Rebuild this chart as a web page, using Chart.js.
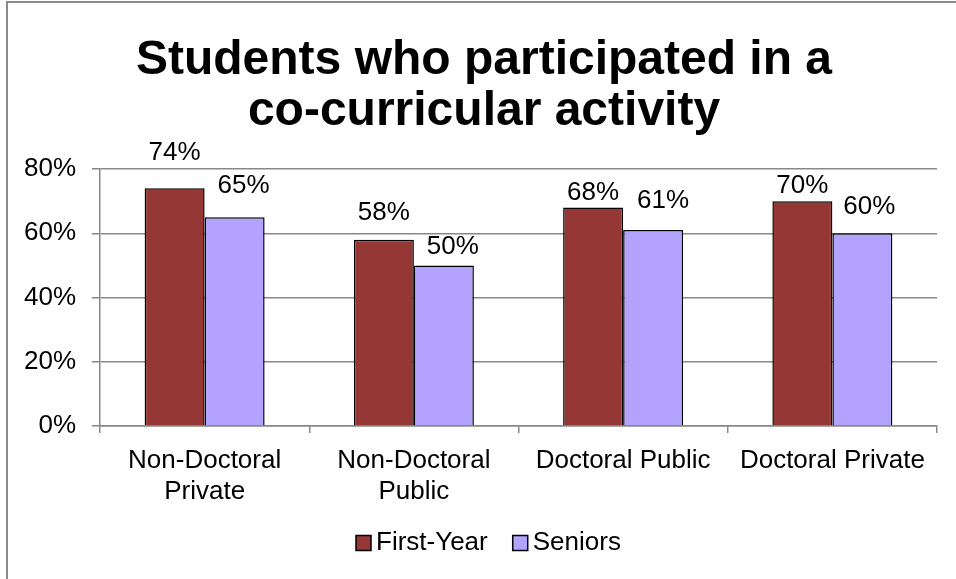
<!DOCTYPE html>
<html>
<head>
<meta charset="utf-8">
<script src="https://cdn.jsdelivr.net/npm/chart.js@4/dist/chart.umd.min.js"></script>
<style>
  html, body { margin: 0; padding: 0; background: #fff; }
  #wrap { width: 956px; height: 579px; position: relative; }
</style>
</head>
<body>
<div id="wrap"><canvas id="c" width="956" height="579"></canvas></div>
<script>
// ---- data ----
const titleLines = ["Students who participated in a", "co-curricular activity"];
const categories = [["Non-Doctoral", "Private"], ["Non-Doctoral", "Public"], "Doctoral Public", "Doctoral Private"];
const seriesNames = ["First-Year", "Seniors"];
const firstYear = [74, 58, 68, 70];
const seniors = [65, 50, 61, 60];
const yTickLabels = ["0%", "20%", "40%", "60%", "80%"];

// ---- style ----
const FONT = "'Liberation Sans', Arial, sans-serif";
const colors = ["#953735", "#B3A3FF"];
const gridColor = "#888888";
// manual label nudges (px, relative to bar top centre), as placed in the original
const labelDx = [[0, 0, 0, 0], [9, 9, 10, 7]];
const labelDy = [[-35, -27, -15, -15], [-31, -19, -29, -26]];

const dataLabels = {
  id: "dataLabels",
  afterDatasetsDraw(chart) {
    const ctx = chart.ctx;
    ctx.save();
    ctx.font = "26px " + FONT;
    ctx.fillStyle = "#000";
    ctx.textAlign = "center";
    ctx.textBaseline = "middle";
    chart.data.datasets.forEach((ds, di) => {
      chart.getDatasetMeta(di).data.forEach((el, i) => {
        ctx.fillText(ds.data[i] + "%", el.x + labelDx[di][i], el.y + labelDy[di][i]);
      });
    });
    ctx.restore();
  }
};

const decor = {
  id: "decor",
  afterDraw(chart) {
    const ctx = chart.ctx;
    ctx.save();
    // frame (left and top edges)
    ctx.strokeStyle = "#8a8a8a";
    ctx.lineWidth = 2;
    ctx.beginPath();
    ctx.moveTo(7, 579); ctx.lineTo(7, 2); ctx.lineTo(956, 2);
    ctx.stroke();
    // title
    ctx.fillStyle = "#000";
    ctx.font = "bold 48px " + FONT;
    ctx.textAlign = "center";
    ctx.textBaseline = "middle";
    titleLines.forEach((t, i) => ctx.fillText(t, 484, 60.5 + i * 51));
    // legend
    ctx.font = "26px " + FONT;
    ctx.textBaseline = "middle";
    ctx.textAlign = "left";
    const cy = 543;
    let x = 356;
    chart.data.datasets.forEach((ds) => {
      ctx.fillStyle = ds.backgroundColor;
      ctx.fillRect(x, cy - 7.5, 15, 15);
      ctx.strokeStyle = "#000";
      ctx.lineWidth = 1.5;
      ctx.strokeRect(x, cy - 7.5, 15, 15);
      ctx.fillStyle = "#000";
      ctx.fillText(ds.label, x + 20, cy);
      x += 20 + ctx.measureText(ds.label).width + 25;
    });
    ctx.restore();
  }
};

new Chart(document.getElementById("c"), {
  type: "bar",
  data: {
    labels: categories,
    datasets: [
      { label: seriesNames[0], data: firstYear, backgroundColor: colors[0], borderColor: "#000", borderWidth: 1.5 },
      { label: seriesNames[1], data: seniors, backgroundColor: colors[1], borderColor: "#000", borderWidth: 1.5 }
    ]
  },
  options: {
    responsive: false,
    animation: false,
    layout: { padding: { left: 0, right: 19, top: 169, bottom: 0 } },
    datasets: { bar: { categoryPercentage: 0.5735, barPercentage: 1 } },
    plugins: {
      legend: { display: false },
      tooltip: { enabled: false },
      title: { display: false }
    },
    scales: {
      x: {
        afterFit(s) { s.height = 153; },
        grid: { display: true, drawOnChartArea: false, drawTicks: true, tickLength: 7, color: gridColor, lineWidth: 1.5, offset: true },
        border: { display: true, color: gridColor, width: 1.5 },
        ticks: { color: "#000", font: { family: FONT, size: 26, lineHeight: 1.19 }, padding: 12, maxRotation: 0, autoSkip: false }
      },
      y: {
        min: 0, max: 80,
        afterFit(s) { s.width = 100; },
        grid: { color: gridColor, lineWidth: 1.5, tickLength: 8 },
        border: { display: true, color: gridColor, width: 1.5 },
        ticks: {
          stepSize: 20,
          color: "#000",
          padding: 16,
          font: { family: FONT, size: 26 },
          callback: (v) => yTickLabels[Math.round(v / 20)]
        }
      }
    }
  },
  plugins: [dataLabels, decor]
});
</script>
</body>
</html>
